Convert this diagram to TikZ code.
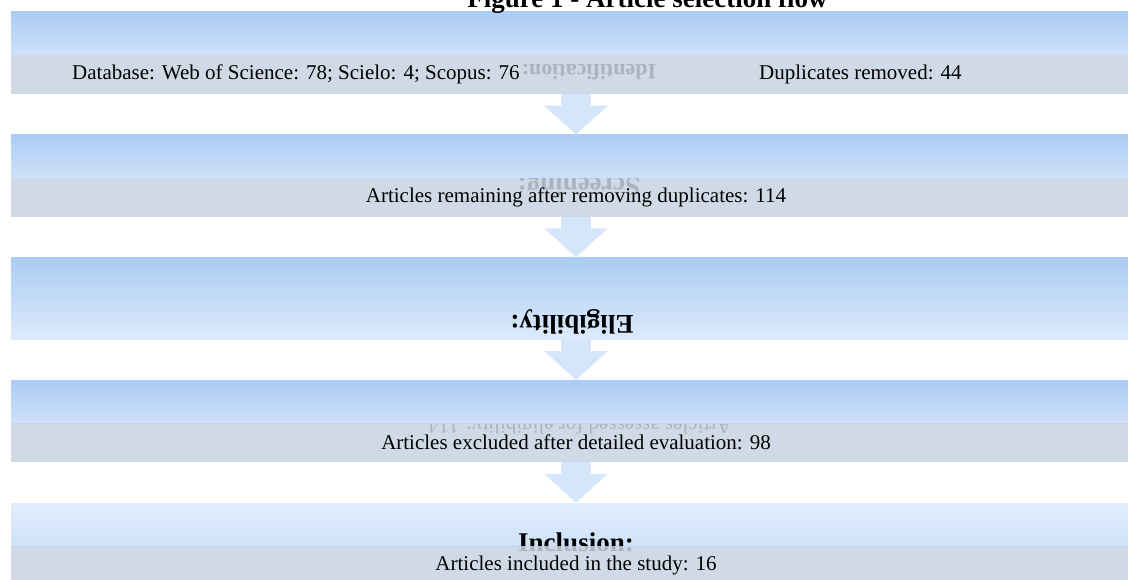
\documentclass[tikz,border=0pt]{standalone}
\usepackage{fontspec}
\setmainfont{Liberation Serif}
\usetikzlibrary{arrows.meta}
\definecolor{boxtop}{RGB}{171,204,244}
\definecolor{boxbottom}{RGB}{206,225,249}
\definecolor{boxpale}{RGB}{226,237,252}
\definecolor{bargray}{RGB}{200,212,226}
\definecolor{arrowblue}{RGB}{214,230,250}

\begin{document}
\begin{tikzpicture}[
  x=1pt,
  y=-1pt,
  stage/.style={
    rectangle,
    inner sep=0pt,
    minimum width=1130pt,
    minimum height=43pt,
    top color=boxtop,
    bottom color=boxbottom
  },
  bar/.style={
    rectangle,
    inner sep=0pt,
    minimum width=1130pt,
    minimum height=39pt,
    fill=bargray,
    fill opacity=0.85,
    text opacity=1,
    font=\fontsize{21pt}{25pt}\selectfont
  },
  body/.style={inner sep=0pt, font=\fontsize{21pt}{25pt}\selectfont},
  stagename/.style={inner sep=0pt, font=\fontsize{27pt}{31pt}\selectfont\bfseries},
  flow/.style={draw=arrowblue, line width=30pt, -{Triangle[length=29pt, width=62pt]}},
  title/.style={inner sep=0pt, font=\fontsize{27pt}{31pt}\selectfont\bfseries}
]

\useasboundingbox (0,0) rectangle (1128,580);

% Flipped stage names left behind the grey bars.
\node[stagename, font=\fontsize{22pt}{26pt}\selectfont\bfseries, rotate=180]
  (idghost) at (589,72) {Identification:};
\node[stagename, rotate=180] (scrghost) at (579,184) {Screening:};
\node[body, rotate=180] (exclghost) at (580,425)
  {Articles assessed for eligibility: 114};

\node[stage] (id) at (576,33.5) {};
\node[stage] (scr) at (576,156.25) {};
\node[stage, minimum height=82pt, bottom color=boxbottom!70!white] (elig) at (576,298.5) {};
\node[stage] (excl) at (576,401.75) {};
\node[stage, top color=boxpale, bottom color=boxbottom] (incl) at (576,524.5) {};

\node[stagename, rotate=180] (eligname) at (572,322) {Eligibility:};
\node[stagename, anchor=base] (inclname) at (576,551) {Inclusion:};

\node[bar] (idbar) at (576,74.5) {};
\node[bar] (scrbar) at (576,197.25)
  {Articles remaining after removing duplicates: 114};
\node[bar] (exclbar) at (576,442.75)
  {Articles excluded after detailed evaluation: 98};
\node[bar] (inclbar) at (576,565.5) {Articles included in the study: 16};

\node[body, anchor=west] (dbcount) at (72,74.5)
  {Database: Web of Science: 78; Scielo: 4; Scopus: 76};
\node[body, anchor=west] (dupcount) at (759,74.5) {Duplicates removed: 44};

\draw[flow] (idbar.south) -- (scr.north);
\draw[flow] (scrbar.south) -- (elig.north);
\draw[flow] (elig.south) -- (excl.north);
\draw[flow] (exclbar.south) -- (incl.north);

\node[title, anchor=base] (figtitle) at (647.5,8) {Figure 1 - Article selection flow};

\end{tikzpicture}
\end{document}
